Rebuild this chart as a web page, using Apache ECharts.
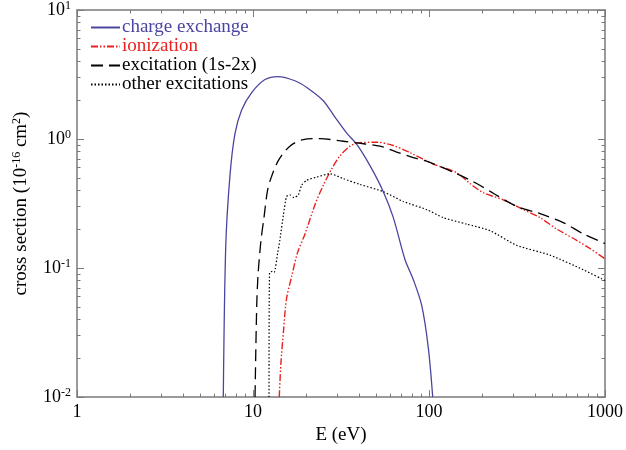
<!DOCTYPE html>
<html>
<head>
<meta charset="utf-8">
<script src="https://cdn.jsdelivr.net/npm/echarts@6/dist/echarts.min.js"></script>
<style>
  html, body { margin: 0; padding: 0; background: #fff; }
  #chart { width: 626px; height: 450px; }
</style>
</head>
<body>
<div id="chart"></div>
<script>
// Cross sections (10^-16 cm^2) versus collision energy E (eV)
const seriesNames = ['charge exchange', 'ionization', 'excitation (1s-2x)', 'other excitations'];

const chargeExchangeE     = [6.78, 7.0, 7.4, 7.9, 8.62, 9.83, 11.7, 13.9, 17.3, 20.3, 25.0, 29.2, 34.1, 38.8, 46.2, 55.0, 62.7, 73.1, 81.4, 90.9, 99.1, 105];
const chargeExchangeSigma = [0.01, 0.147, 0.523, 1.10, 1.68, 2.29, 2.89, 3.05, 2.83, 2.50, 1.99, 1.48, 1.11, 0.912, 0.622, 0.391, 0.246, 0.116, 0.0816, 0.0513, 0.0241, 0.01];

const ionizationE     = [14.1, 14.4, 14.9, 15.5, 16.6, 17.85, 19.75, 22.5, 25.1, 28.0, 31.2, 35.6, 39.6, 50.4, 62.7, 78.0, 105.8, 143.6, 171, 203.5, 264, 343.5, 427.5, 531.6, 690.5, 822, 1000];
const ionizationSigma = [0.01, 0.0181, 0.0323, 0.0576, 0.0866, 0.130, 0.184, 0.310, 0.439, 0.587, 0.740, 0.881, 0.933, 0.944, 0.891, 0.784, 0.640, 0.548, 0.452, 0.384, 0.338, 0.284, 0.246, 0.2006, 0.164, 0.1417, 0.118];

const excitation2xE     = [10.27, 10.5, 10.7, 11.1, 11.55, 12.06, 12.6, 13.9, 16.2, 19.3, 24.0, 32.6, 38.8, 52.7, 65.5, 81.4, 101.3, 143.6, 186.6, 231.9, 315, 427.5, 579, 753, 1000];
const excitation2xSigma = [0.01, 0.0516, 0.0917, 0.164, 0.247, 0.391, 0.49, 0.678, 0.881, 0.99, 1.007, 0.961, 0.933, 0.881, 0.793, 0.718, 0.659, 0.538, 0.452, 0.380, 0.301, 0.264, 0.225, 0.184, 0.155];

const otherExcE     = [12.33, 12.41, 12.87, 13.2, 13.8, 14.2, 14.9, 15.5, 16.2, 17.1, 18.1, 18.9, 20.2, 23.0, 27.4, 32.6, 40.5, 55.0, 71.5, 97.0, 120.5, 163.8, 222, 315, 487, 753, 1000];
const otherExcSigma = [0.01, 0.0917, 0.0944, 0.0928, 0.130, 0.164, 0.2606, 0.358, 0.369, 0.352, 0.369, 0.439, 0.479, 0.507, 0.538, 0.493, 0.445, 0.391, 0.328, 0.284, 0.246, 0.219, 0.195, 0.150, 0.126, 0.097, 0.080];

const xMajorTicks = [1, 10, 100, 1000];
const xMinorTicks = [2, 3, 4, 5, 6, 7, 8, 9, 20, 30, 40, 50, 60, 70, 80, 90, 200, 300, 400, 500, 600, 700, 800, 900];
const yMajorTicks = [0.01, 0.1, 1, 10];
const yMinorTicks = [0.02, 0.03, 0.04, 0.05, 0.06, 0.07, 0.08, 0.09, 0.2, 0.3, 0.4, 0.5, 0.6, 0.7, 0.8, 0.9, 2, 3, 4, 5, 6, 7, 8, 9];

const zip = (xs, ys) => xs.map((x, i) => [x, ys[i]]);

const SERIF = 'Liberation Serif';
const AXIS_GREY = '#7a7a7a';
const BLUE = '#4a46a0';
const RED = '#e8211e';

function logAxis(kind, position, ticks, tickLen, extra) {
  const isX = kind === 'x';
  return Object.assign({
    type: 'log',
    logBase: 10,
    position: position,
    min: isX ? 1 : 0.01,
    max: isX ? 1000 : 10,
    axisLine: { show: true, onZero: false, lineStyle: { color: AXIS_GREY, width: 1.5 } },
    axisTick: { show: true, inside: true, length: tickLen, customValues: ticks, lineStyle: { color: AXIS_GREY, width: 1 } },
    axisLabel: { show: false },
    splitLine: { show: false },
    minorTick: { show: false }
  }, extra || {});
}

const supRich = {
  b: { fontFamily: SERIF, fontSize: 18, color: '#000', lineHeight: 20 },
  s: { fontFamily: SERIF, fontSize: 12, color: '#000', lineHeight: 12, verticalAlign: 'top' }
};

const chart = echarts.init(document.getElementById('chart'), null, { renderer: 'canvas' });

chart.setOption({
  animation: false,
  backgroundColor: '#fff',
  textStyle: { fontFamily: SERIF },
  grid: { left: 77, right: 21, top: 10, bottom: 43, containLabel: false },
  legend: {
    orient: 'vertical',
    left: 85,
    top: 13,
    itemWidth: 29,
    itemHeight: 10,
    itemGap: 0,
    itemStyle: { color: 'rgba(0,0,0,0)', borderColor: 'rgba(0,0,0,0)', borderWidth: 0, opacity: 0 },
    textStyle: { fontFamily: SERIF, fontSize: 19, lineHeight: 19, color: '#000', padding: [0, 0, 0, -3] },
    data: [
      { name: seriesNames[0], textStyle: { color: BLUE, fontFamily: SERIF } },
      { name: seriesNames[1], textStyle: { color: RED, fontFamily: SERIF } },
      { name: seriesNames[2], textStyle: { fontFamily: SERIF } },
      { name: seriesNames[3], textStyle: { fontFamily: SERIF } }
    ]
  },
  xAxis: [
    logAxis('x', 'bottom', xMajorTicks, 7, {
      axisLabel: { show: true, margin: 6, customValues: xMajorTicks, fontFamily: SERIF, fontSize: 18, color: '#000',
        formatter: v => String(Math.round(v)) },
      name: 'E (eV)',
      nameLocation: 'middle',
      nameGap: 25,
      nameTextStyle: { fontFamily: SERIF, fontSize: 19, color: '#000' }
    }),
    logAxis('x', 'bottom', xMinorTicks, 3.5, { axisLine: { show: false } }),
    logAxis('x', 'top', xMajorTicks, 7),
    logAxis('x', 'top', xMinorTicks, 3.5, { axisLine: { show: false } })
  ],
  yAxis: [
    logAxis('y', 'left', yMajorTicks, 7, {
      axisLabel: { show: true, margin: 6, customValues: yMajorTicks, fontFamily: SERIF,
        formatter: v => '{b|10}{s|' + Math.round(Math.log10(v)) + '}', rich: supRich },
      name: '{n|cross section (10}{s|-16}{n| cm}{s|2}{n|)}',
      nameLocation: 'middle',
      nameGap: 45,
      nameRotate: 90,
      nameTextStyle: {
        fontFamily: SERIF,
        rich: {
          n: { fontFamily: SERIF, fontSize: 19, color: '#000', lineHeight: 21 },
          s: { fontFamily: SERIF, fontSize: 12, color: '#000', lineHeight: 12, verticalAlign: 'top' }
        }
      }
    }),
    logAxis('y', 'left', yMinorTicks, 3.5, { axisLine: { show: false } }),
    logAxis('y', 'right', yMajorTicks, 7),
    logAxis('y', 'right', yMinorTicks, 3.5, { axisLine: { show: false } })
  ],
  series: [
    {
      name: seriesNames[0], type: 'line', xAxisIndex: 0, yAxisIndex: 0,
      data: zip(chargeExchangeE, chargeExchangeSigma), showSymbol: false, symbol: 'none', smooth: 0.3,
      lineStyle: { color: BLUE, width: 1.3, type: 'solid' }, itemStyle: { color: BLUE }
    },
    {
      name: seriesNames[1], type: 'line', xAxisIndex: 0, yAxisIndex: 0,
      data: zip(ionizationE, ionizationSigma), showSymbol: false, symbol: 'none', smooth: 0.3,
      lineStyle: { color: RED, width: 1.4, type: [7, 2, 1.5, 2, 1.5, 2] }, itemStyle: { color: RED }
    },
    {
      name: seriesNames[2], type: 'line', xAxisIndex: 0, yAxisIndex: 0,
      data: zip(excitation2xE, excitation2xSigma), showSymbol: false, symbol: 'none', smooth: 0.3,
      lineStyle: { color: '#000', width: 1.3, type: [12, 6] }, itemStyle: { color: '#000' }
    },
    {
      name: seriesNames[3], type: 'line', xAxisIndex: 0, yAxisIndex: 0,
      data: zip(otherExcE, otherExcSigma), showSymbol: false, symbol: 'none', smooth: 0.2,
      lineStyle: { color: '#000', width: 1.2, type: [1.5, 2] }, itemStyle: { color: '#000' }
    }
  ]
});
</script>
</body>
</html>
